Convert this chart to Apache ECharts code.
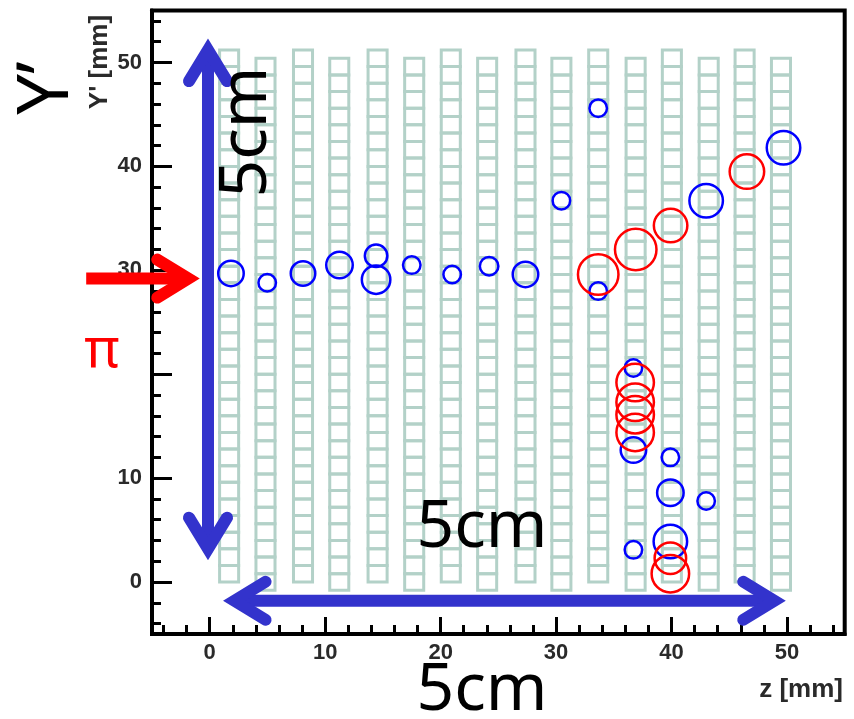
<!DOCTYPE html>
<html><head><meta charset="utf-8">
<script src="https://cdn.jsdelivr.net/npm/echarts@6/dist/echarts.min.js"></script>
<style>html,body{margin:0;padding:0;background:#fff}#c{width:854px;height:719px}</style>
</head><body><div id="c"></div>
<script>
// ---- axis ticks / labels ----
const xMajorTicks = [0, 10, 20, 30, 40, 50];
const xMinorTicks = [-4, -2, 2, 4, 6, 8, 12, 14, 16, 18, 22, 24, 26, 28, 32, 34, 36, 38, 42, 44, 46, 48, 52, 54];
const yMajorTicks = [0, 10, 20, 30, 40, 50];
const yMinorTicks = [-4, -2, 2, 4, 6, 8, 12, 14, 16, 18, 22, 24, 26, 28, 32, 34, 36, 38, 42, 44, 46, 48, 52, 54];
const xTickLabels = [0, 10, 20, 30, 40, 50];
const yTickLabels = [0, 10, 30, 40, 50];

// ---- detector layers (z of each column, bottom of first cell) ----
const columnZ = [1.68, 4.83, 8.08, 11.22, 14.54, 17.71, 20.88, 24.03, 27.35, 30.46, 33.65, 36.89, 40.03, 43.22, 46.33, 49.48];
const columnBottom = [0, -0.8, 0, -0.8, 0, -0.8, 0, -0.8, 0, -0.8, 0, -0.8, 0, -0.8, 0, -0.8];
const cellPitch = 1.6;
const cellsPerColumn = 32;
const cellWidth = 1.65;

// ---- hits ----
const blueZ = [1.84, 4.98, 8.08, 11.24, 14.41, 14.41, 17.5, 21.0, 24.2, 27.35, 30.46, 33.65, 33.65, 43.0, 49.7, 36.7, 36.7, 39.9, 39.9, 43.0, 36.7, 39.9];
const blueY = [29.7, 28.8, 29.7, 30.5, 31.4, 29.1, 30.5, 29.6, 30.4, 29.6, 36.7, 45.6, 28.0, 36.7, 41.8, 20.6, 12.7, 12.0, 8.6, 7.8, 3.1, 3.9];
const blueQ = [28, 20, 27, 29, 25, 31, 20, 20, 21, 28, 20, 20, 20, 36, 36, 20, 28, 20, 29, 20, 20, 36];
const redZ = [33.65, 36.9, 39.92, 46.53, 36.85, 36.85, 36.85, 36.85, 39.9, 39.9];
const redY = [29.6, 32.0, 34.3, 39.5, 19.2, 17.3, 16.1, 14.4, 2.3, 0.8];
const redQ = [43, 44, 36, 37, 40, 40, 40, 40, 34, 40];

const cells = [];
columnZ.forEach((z, i) => { for (let k = 0; k < cellsPerColumn; k++) cells.push([z, columnBottom[i] + k * cellPitch]); });
const blueData = blueZ.map((z, i) => [z, blueY[i], blueQ[i]]);
const redData = redZ.map((z, i) => [z, redY[i], redQ[i]]);

const chart = echarts.init(document.getElementById('c'));
const tickFont = { color: '#2a2a2a', fontWeight: 'bold', fontSize: 22, fontFamily: 'Liberation Sans' };
function xAx(extra) {
  return Object.assign({ type: 'value', min: -5, max: 55, position: 'bottom', splitLine: { show: false } }, extra);
}
function yAx(extra) {
  return Object.assign({ type: 'value', min: -5, max: 55, position: 'left', splitLine: { show: false } }, extra);
}
chart.setOption({
  animation: false,
  backgroundColor: '#fff',
  grid: { left: 152, right: 9.3, top: 10.5, bottom: 85, show: true, borderColor: '#000', borderWidth: 4 },
  xAxis: [
    xAx({ axisLine: { show: true, onZero: false, lineStyle: { color: '#000', width: 4 } },
      axisTick: { show: true, inside: true, length: 17, customValues: xMajorTicks, lineStyle: { color: '#000', width: 3 } },
      axisLabel: Object.assign({ customValues: xTickLabels, margin: 8, formatter: v => (v % 10 === 0 ? String(v) : '') }, tickFont) }),
    xAx({ axisLine: { show: false, onZero: false },
      axisTick: { show: true, inside: true, length: 9, customValues: xMinorTicks, lineStyle: { color: '#000', width: 3 } },
      axisLabel: { show: false } })
  ],
  yAxis: [
    yAx({ axisLine: { show: true, onZero: false, lineStyle: { color: '#000', width: 4 } },
      axisTick: { show: true, inside: true, length: 20, customValues: yMajorTicks, lineStyle: { color: '#000', width: 3 } },
      axisLabel: Object.assign({ customValues: yTickLabels, margin: 10, formatter: v => (v % 10 === 0 && v !== 20 ? String(v) : '') }, tickFont) }),
    yAx({ axisLine: { show: false, onZero: false },
      axisTick: { show: true, inside: true, length: 9, customValues: yMinorTicks, lineStyle: { color: '#000', width: 3 } },
      axisLabel: { show: false } })
  ],
  series: [
    { type: 'custom', data: cells, z: 1,
      renderItem: function (params, api) {
        const z = api.value(0), y0 = api.value(1);
        const a = api.coord([z - cellWidth / 2, y0 + cellPitch]);
        const b = api.coord([z + cellWidth / 2, y0]);
        return { type: 'rect', shape: { x: a[0], y: a[1], width: b[0] - a[0], height: b[1] - a[1] },
          style: { fill: 'none', stroke: '#b3d1c8', lineWidth: 3 } };
      } },
    { type: 'scatter', data: blueData, z: 3, symbol: 'circle', symbolSize: v => v[2] - 2.5,
      itemStyle: { color: 'rgba(0,0,0,0)', borderColor: '#0000ff', borderWidth: 2.5, opacity: 1 } },
    { type: 'scatter', data: redData, z: 4, symbol: 'circle', symbolSize: v => v[2] - 2.5,
      itemStyle: { color: 'rgba(0,0,0,0)', borderColor: '#ff0000', borderWidth: 2.5, opacity: 1 } }
  ]
});

// ---- annotations (arrows in data coordinates) ----
const arrowBlueV = { from: [-0.15, 2.1], to: [-0.15, 52.3], heads: [true, true], color: '#3333cc' };
const arrowBlueH = { from: [1.15, -1.8], to: [49.9, -1.8], heads: [true, true], color: '#3333cc' };
const arrowRed = { from: [-10.7, 29.2], to: [-0.86, 29.2], heads: [false, true], color: '#ff0000' };

function arrowGraphics(spec) {
  const p0 = chart.convertToPixel({ gridIndex: 0 }, spec.from);
  const p1 = chart.convertToPixel({ gridIndex: 0 }, spec.to);
  const W = 12, INSET = 11.5, BACK = 31, SPREAD = 19;
  const dx = p1[0] - p0[0], dy = p1[1] - p0[1];
  const L = Math.hypot(dx, dy), ux = dx / L, uy = dy / L, nx = -uy, ny = ux;
  const s = spec.heads[0] ? [p0[0] + ux * INSET, p0[1] + uy * INSET] : p0;
  const e = spec.heads[1] ? [p1[0] - ux * INSET, p1[1] - uy * INSET] : p1;
  const els = [{ type: 'line', z: 50, shape: { x1: s[0], y1: s[1], x2: e[0], y2: e[1] },
    style: { stroke: spec.color, lineWidth: W, lineCap: 'butt' } }];
  function head(t, bx, by) {
    return { type: 'polyline', z: 51, shape: { points: [
      [t[0] + bx * BACK + nx * SPREAD, t[1] + by * BACK + ny * SPREAD], [t[0], t[1]],
      [t[0] + bx * BACK - nx * SPREAD, t[1] + by * BACK - ny * SPREAD]] },
      style: { stroke: spec.color, lineWidth: W, lineCap: 'round', lineJoin: 'miter', miterLimit: 10, fill: null } };
  }
  if (spec.heads[0]) els.push(head(s, ux, uy));
  if (spec.heads[1]) els.push(head(e, -ux, -uy));
  return els;
}

const bigFont = '"Noto Sans", sans-serif';
const texts = [
  { type: 'text', z: 60, x: 47, y: 88, rotation: Math.PI / 2,
    style: { text: 'Y’', font: '72px ' + bigFont, fill: '#000', align: 'center', verticalAlign: 'middle' } },
  { type: 'text', z: 60, x: 247, y: 132, rotation: Math.PI / 2,
    style: { text: '5cm', font: '66px ' + bigFont, fill: '#000', align: 'center', verticalAlign: 'middle' } },
  { type: 'text', z: 60, x: 482, y: 528,
    style: { text: '5cm', font: '66px ' + bigFont, fill: '#000', align: 'center', verticalAlign: 'middle' } },
  { type: 'text', z: 60, x: 482, y: 691,
    style: { text: '5cm', font: '66px ' + bigFont, fill: '#000', align: 'center', verticalAlign: 'middle' } },
  { type: 'text', z: 60, x: 102, y: 352,
    style: { text: 'π', font: '54px ' + bigFont, fill: '#ff0000', align: 'center', verticalAlign: 'middle' } },
  { type: 'text', z: 60, x: 100, y: 62, rotation: Math.PI / 2,
    style: { text: "Y' [mm]", font: 'bold 26px "Liberation Sans"', fill: '#2a2a2a', align: 'center', verticalAlign: 'middle' } },
  { type: 'text', z: 60, x: 843, y: 690,
    style: { text: 'z [mm]', font: 'bold 26px "Liberation Sans"', fill: '#2a2a2a', align: 'right', verticalAlign: 'middle' } }
];

chart.setOption({ graphic: [].concat(arrowGraphics(arrowBlueV), arrowGraphics(arrowBlueH), arrowGraphics(arrowRed), texts) });
</script></body></html>
